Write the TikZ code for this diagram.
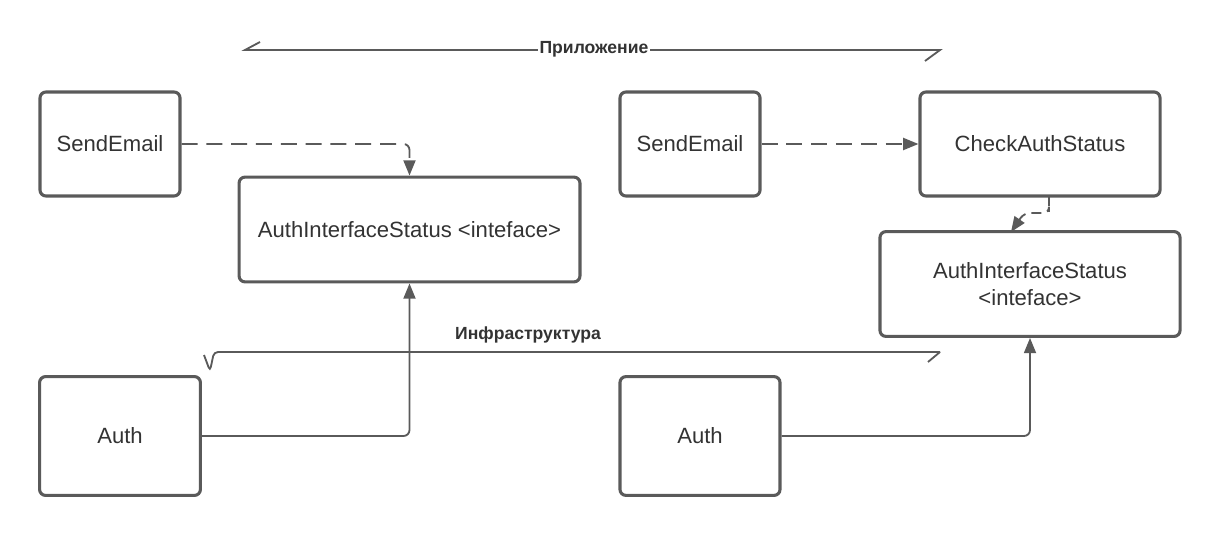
\documentclass[tikz,border=0pt]{standalone}
\usepackage{fontspec}
\setmainfont{Liberation Sans}
\usetikzlibrary{arrows.meta}
\definecolor{linegray}{HTML}{5A5A5A}
\definecolor{textgray}{HTML}{333333}
\tikzset{
  box/.style={draw=linegray,line width=2.2pt,rounded corners=1.5mm,align=center,
    text=textgray,font=\fontsize{15.7}{19}\selectfont},
  link/.style={draw=linegray,line width=1.3pt,rounded corners=1.5mm,
    -{Triangle[length=3.8mm,width=3mm]}},
  dashlink/.style={link,dash pattern=on 4mm off 2.2mm},
  layer/.style={draw=linegray,line width=1.3pt},
  layerlabel/.style={text=textgray,font=\fontsize{12.5}{15}\bfseries\selectfont}
}
\begin{document}
\begin{tikzpicture}[x=0.025cm,y=-0.025cm]
\useasboundingbox (0,0) rectangle (1220,537);

% left side
\node [box,minimum width=3.5cm,minimum height=2.6cm] (sendL) at (110,144) {SendEmail};
\node [box,minimum width=8.52cm,minimum height=2.62cm] (ifaceL) at (409.5,229.5) {AuthInterfaceStatus <inteface>};
\node [box,minimum width=4.02cm,minimum height=2.97cm] (authL) at (120,436) {Auth};

% right side
\node [box,minimum width=3.5cm,minimum height=2.6cm] (sendR) at (690,144) {SendEmail};
\node [box,minimum width=6cm,minimum height=2.6cm] (check) at (1040,144) {CheckAuthStatus};
\node [box,minimum width=7.5cm,minimum height=2.62cm] (ifaceR) at (1030,284) {AuthInterfaceStatus\\<inteface>};
\node [box,minimum width=4cm,minimum height=2.97cm] (authR) at (700,436) {Auth};

% connectors
\draw [dashlink] (sendL.east) -| (ifaceL.north);
\draw [link] (authL.east) -| (ifaceL.south);
\draw [dashlink] (sendR.east) -- (check.west);
\draw [link] (authR.east) -| (ifaceR.south);
\coordinate (c1) at (1049,196);
\coordinate (c2) at (1011,232);
\draw [dashlink,dash pattern=on 2.5mm off 1.5mm] (c1) -- (1049,206) -- (1049,213) -- (1024,213) -- (c2);

% layers
\coordinate (a1) at (245,50);
\coordinate (a2) at (940,50);
\draw [layer] (260,42) -- (a1) -- (a2) -- (925,61);
\node [layerlabel,fill=white,inner sep=1pt] (app) at (594,49) {Приложение};

\coordinate (b1) at (214,352);
\coordinate (b2) at (940,352);
\draw [layer,rounded corners=1mm] (204,355) -- (210,371) -- (b1) -- (b2);
\draw [layer] (b2) -- (928,362);
\node [layerlabel] (infra) at (528,335) {Инфраструктура};

\end{tikzpicture}
\end{document}
